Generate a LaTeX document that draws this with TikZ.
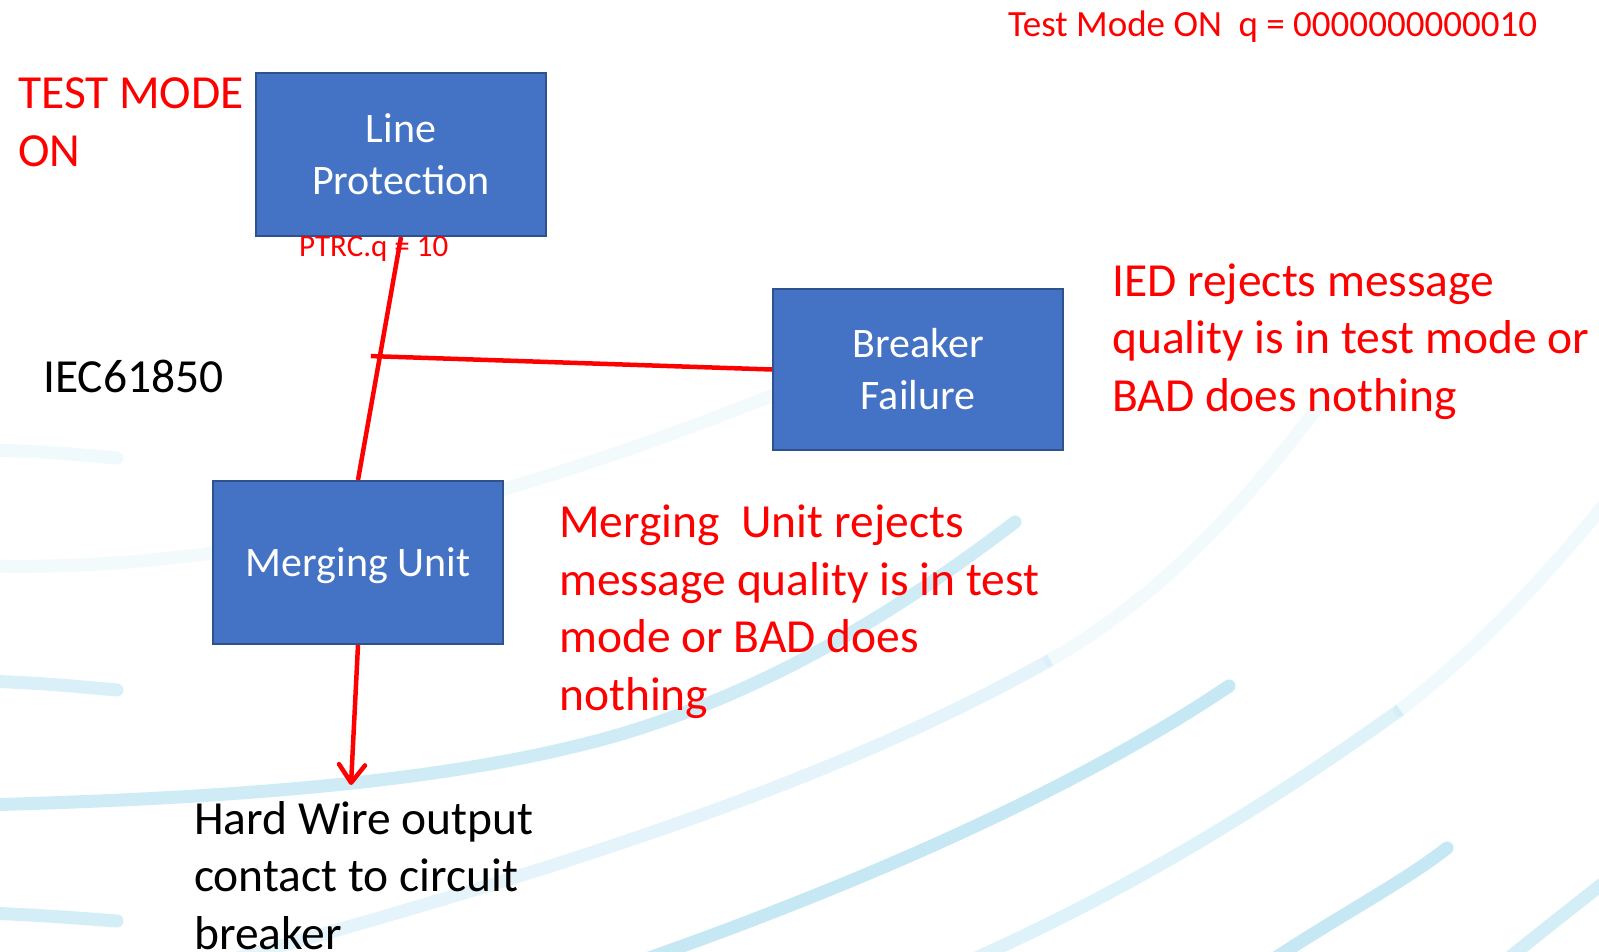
\documentclass[tikz,border=0pt]{standalone}
\usepackage{fontspec}
\setmainfont{Carlito}
\usetikzlibrary{arrows.meta,calc}

\definecolor{boxblue}{HTML}{4472C4}
\definecolor{boxedge}{HTML}{2F528F}
\definecolor{arcblue}{RGB}{160,218,238}

\begin{document}
\begin{tikzpicture}[x=1pt,y=-1pt,
  blockbox/.style={draw=boxedge, line width=2pt, fill=boxblue, text=white,
    minimum width=290pt, minimum height=163pt, inner sep=0pt, align=center,
    font=\fontsize{42}{52}\selectfont},
  note/.style={inner sep=0pt, anchor=base west, align=left,
    font=\fontsize{47.5}{57.5}\selectfont},
  wire/.style={draw=red, line width=4.5pt},
  swirl/.style={draw=arcblue, line width=13pt, line cap=round},
]
% page
\fill[white] (0,0) rectangle (1599,951);
\useasboundingbox (0,0) rectangle (1599,951);

% decorative background swirls
\begin{scope}
  \clip (0,0) rectangle (1599,951);
  \draw[swirl, opacity=0.15] (-10,450) .. controls (50,452) .. (117,458);
  \draw[swirl, opacity=0.40] (-10,681) .. controls (50,684) .. (117,690);
  \draw[swirl, opacity=0.45] (-10,913) .. controls (50,916) .. (117,921);
  \draw[swirl, opacity=0.13] (-10,566) .. controls (250,572) and (550,500) .. (950,320);
  \draw[swirl, opacity=0.50] (-20,805) .. controls (250,798) and (450,780) .. (600,740)
                             .. controls (760,697) and (900,610) .. (1015,522);
  \draw[swirl, opacity=0.28, line cap=butt] (230,960) .. controls (520,880) and (820,790) .. (1050,660);
  \draw[swirl, opacity=0.12] (1050,660) .. controls (1160,598) and (1250,500) .. (1330,390);
  \draw[swirl, opacity=0.60] (600,975) .. controls (820,900) and (1060,800) .. (1229,686);
  \draw[swirl, opacity=0.35, line cap=butt] (960,965) .. controls (1120,895) and (1260,810) .. (1400,710);
  \draw[swirl, opacity=0.15] (1400,710) .. controls (1490,640) and (1560,560) .. (1620,485);
  \draw[swirl, opacity=0.60] (1250,975) .. controls (1330,920) and (1400,885) .. (1447,848);
  \draw[swirl, opacity=0.45] (1500,965) .. controls (1550,925) .. (1620,870);
\end{scope}

% function blocks
\node[blockbox] (lp) at (401,154.5) {Line\\Protection};
\node[blockbox, minimum height=161pt] (bf) at (918,369.5) {Breaker\\Failure};
\node[blockbox, text height=28pt, text depth=0pt] (mu) at (358,562.5) {Merging Unit};

% GOOSE trip path
\coordinate (j) at ($(lp.south)!0.49!(mu.north)$);
\coordinate (jl) at ($(j)+(-9,0)$);
\coordinate (tip) at (351,785);
\draw[wire] (lp.south) -- (mu.north);
\draw[wire] (jl) -- (bf.west);
\draw[wire, -{Straight Barb[length=18pt,width=26pt,round]}] (mu.south) -- (tip);

% labels (multi-line notes are anchored at the baseline of their last line)
\node[anchor=base west, inner sep=0pt, text=red, font=\fontsize{31}{37}\selectfont]
  (ptrc) at (299,256) {PTRC.q = 10};
\node[note, text=red] (tm) at (18,166) {TEST MODE\\ON};
\node[note, text=red, font=\fontsize{37}{44}\selectfont] (hdr) at (1008,36)
  {Test Mode ON\ \ q = 0000000000010};
\node[note] (iec) at (43,392) {IEC61850};
\node[note, text=red] (ied) at (1112,411)
  {IED rejects message\\quality is in test mode or\\BAD does nothing};
\node[note, text=red] (mut) at (559,710)
  {Merging\ \ Unit rejects\\message quality is in test\\mode or BAD does\\nothing};
\node[note] (hw) at (194,949) {Hard Wire output\\contact to circuit\\breaker};
\end{tikzpicture}
\end{document}
